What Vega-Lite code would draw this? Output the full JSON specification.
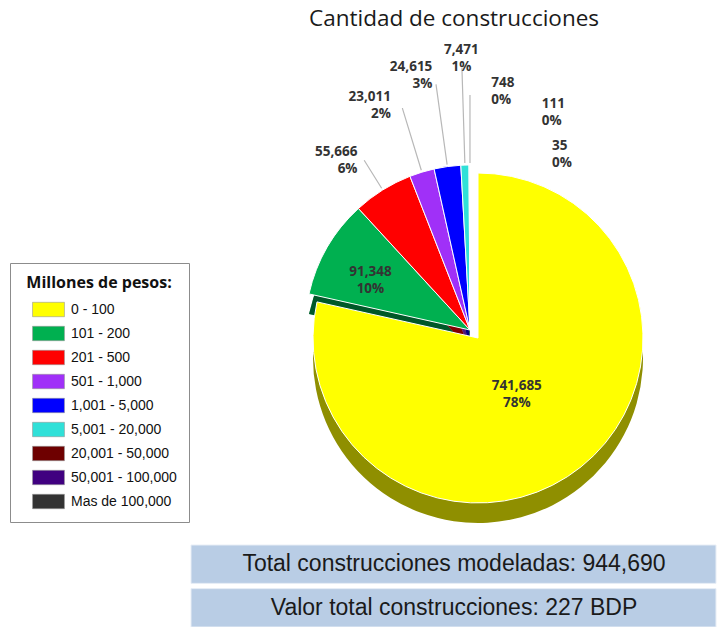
{
  "$schema": "https://vega.github.io/schema/vega-lite/v6.json",
  "width": 720,
  "height": 627,
  "autosize": {"type": "fit", "contains": "padding"},
  "padding": {"top": 7, "left": 0, "right": 0, "bottom": 0},
  "background": "white",
  "title": {"text": "Cantidad de construcciones", "anchor": "middle", "dx": 100, "offset": 4, "font": "Open Sans", "fontSize": 22.5, "fontWeight": "normal", "color": "#1a1a1a"},
  "datasets": {
    "slices": [
      {"cat": "0 - 100", "value": 741685, "idx": 1, "label": "741,685\n78%"},
      {"cat": "101 - 200", "value": 91348, "idx": 2, "label": "91,348\n10%"},
      {"cat": "201 - 500", "value": 55666, "idx": 3, "label": "55,666\n6%"},
      {"cat": "501 - 1,000", "value": 23011, "idx": 4, "label": "23,011\n2%"},
      {"cat": "1,001 - 5,000", "value": 24615, "idx": 5, "label": "24,615\n3%"},
      {"cat": "5,001 - 20,000", "value": 7471, "idx": 6, "label": "7,471\n1%"},
      {"cat": "20,001 - 50,000", "value": 748, "idx": 7, "label": "748\n0%"},
      {"cat": "50,001 - 100,000", "value": 111, "idx": 8, "label": "111\n0%"},
      {"cat": "Mas de 100,000", "value": 35, "idx": 9, "label": "35\n0%"}
    ],
    "boxes": [
      {"label": "Total construcciones modeladas: 944,690"},
      {"label": "Valor total construcciones: 227 BDP"}
    ]
  },
  "layer": [
    {
      "data": {"name": "slices"},
      "mark": {"type": "arc", "x": 470, "y": 316, "outerRadius": 165},
      "encoding": {
        "theta": {"field": "value", "type": "quantitative", "stack": true},
        "order": {"field": "idx", "type": "quantitative"},
        "color": {"field": "cat", "type": "nominal", "sort": null},
        "opacity": {"condition": {"test": "datum.cat == '0 - 100'", "value": 0}, "value": 1}
      }
    },
    {
      "data": {"name": "slices"},
      "mark": {"type": "arc", "x": 470, "y": 316, "outerRadius": 165, "color": "#000000"},
      "encoding": {
        "theta": {"field": "value", "type": "quantitative", "stack": true},
        "order": {"field": "idx", "type": "quantitative"},
        "detail": {"field": "cat", "type": "nominal"},
        "fillOpacity": {"condition": {"test": "datum.cat == '0 - 100'", "value": 0}, "value": 0.5}
      }
    },
    {
      "data": {"name": "slices"},
      "mark": {"type": "arc", "x": 478, "y": 324, "outerRadius": 165, "color": "#8f8f00"},
      "encoding": {
        "theta": {"field": "value", "type": "quantitative", "stack": true},
        "order": {"field": "idx", "type": "quantitative"},
        "detail": {"field": "cat", "type": "nominal"},
        "fillOpacity": {"condition": {"test": "datum.cat == '0 - 100'", "value": 1}, "value": 0}
      }
    },
    {
      "data": {"name": "slices"},
      "mark": {"type": "arc", "x": 470, "y": 296, "outerRadius": 165, "stroke": "white", "strokeWidth": 1},
      "encoding": {
        "theta": {"field": "value", "type": "quantitative", "stack": true},
        "order": {"field": "idx", "type": "quantitative"},
        "color": {"field": "cat", "type": "nominal", "sort": null,
          "legend": {"title": "Millones de pesos:", "orient": "none", "legendX": 10, "legendY": 229,
            "titleFont": "Open Sans", "titleFontSize": 16, "titleFontWeight": "bold", "titleColor": "#111111", "titlePadding": 6, "titleAnchor": "middle",
            "labelFont": "Liberation Sans", "labelFontSize": 14, "labelColor": "#111111", "labelOffset": 10,
            "symbolType": "M-1.33,-0.6H1.33V0.6H-1.33Z", "symbolSize": 576, "symbolStrokeWidth": 0.6, "symbolStrokeColor": "#999999", "symbolOffset": 14, "symbolOpacity": 1,
            "rowPadding": 3, "padding": 12, "strokeColor": "#8c8c8c", "fillColor": "white"},
          "scale": {"domain": ["0 - 100", "101 - 200", "201 - 500", "501 - 1,000", "1,001 - 5,000", "5,001 - 20,000", "20,001 - 50,000", "50,001 - 100,000", "Mas de 100,000"],
            "range": ["#ffff00", "#00b050", "#ff0000", "#a030f8", "#0000ff", "#30e0d8", "#6e0000", "#400080", "#333333"]}},
        "fillOpacity": {"condition": {"test": "datum.cat == '0 - 100'", "value": 0}, "value": 1},
        "strokeOpacity": {"condition": {"test": "datum.cat == '0 - 100'", "value": 0}, "value": 1}
      }
    },
    {
      "data": {"name": "slices"},
      "mark": {"type": "arc", "x": 478, "y": 304, "outerRadius": 165, "color": "#ffff00", "stroke": "white", "strokeWidth": 1},
      "encoding": {
        "theta": {"field": "value", "type": "quantitative", "stack": true},
        "order": {"field": "idx", "type": "quantitative"},
        "detail": {"field": "cat", "type": "nominal"},
        "opacity": {"condition": {"test": "datum.cat == '0 - 100'", "value": 1}, "value": 0}
      }
    },
    {
      "data": {"name": "slices"},
      "mark": {"type": "arc", "x": 470, "y": 296, "innerRadius": 167, "outerRadius": 200, "padAngle": 3, "fillOpacity": 0, "stroke": "#b8b8b8", "strokeWidth": 1.2},
      "encoding": {
        "theta": {"field": "value", "type": "quantitative", "stack": true},
        "order": {"field": "idx", "type": "quantitative"},
        "detail": {"field": "cat", "type": "nominal"},
        "strokeOpacity": {"condition": {"test": "datum.cat == '201 - 500'", "value": 1}, "value": 0}
      }
    },
    {
      "data": {"name": "slices"},
      "mark": {"type": "arc", "x": 470, "y": 296, "innerRadius": 167, "outerRadius": 232, "padAngle": 3, "fillOpacity": 0, "stroke": "#b8b8b8", "strokeWidth": 1.2},
      "encoding": {
        "theta": {"field": "value", "type": "quantitative", "stack": true},
        "order": {"field": "idx", "type": "quantitative"},
        "detail": {"field": "cat", "type": "nominal"},
        "strokeOpacity": {"condition": {"test": "datum.cat == '501 - 1,000'", "value": 1}, "value": 0}
      }
    },
    {
      "data": {"name": "slices"},
      "mark": {"type": "arc", "x": 470, "y": 296, "innerRadius": 167, "outerRadius": 248, "padAngle": 3, "fillOpacity": 0, "stroke": "#b8b8b8", "strokeWidth": 1.2},
      "encoding": {
        "theta": {"field": "value", "type": "quantitative", "stack": true},
        "order": {"field": "idx", "type": "quantitative"},
        "detail": {"field": "cat", "type": "nominal"},
        "strokeOpacity": {"condition": {"test": "datum.cat == '1,001 - 5,000'", "value": 1}, "value": 0}
      }
    },
    {
      "data": {"name": "slices"},
      "mark": {"type": "arc", "x": 470, "y": 296, "innerRadius": 167, "outerRadius": 262, "padAngle": 3, "fillOpacity": 0, "stroke": "#b8b8b8", "strokeWidth": 1.2},
      "encoding": {
        "theta": {"field": "value", "type": "quantitative", "stack": true},
        "order": {"field": "idx", "type": "quantitative"},
        "detail": {"field": "cat", "type": "nominal"},
        "strokeOpacity": {"condition": {"test": "datum.cat == '5,001 - 20,000'", "value": 1}, "value": 0}
      }
    },
    {
      "data": {"name": "slices"},
      "mark": {"type": "arc", "x": 470, "y": 296, "innerRadius": 167, "outerRadius": 235, "padAngle": 3, "fillOpacity": 0, "stroke": "#b8b8b8", "strokeWidth": 1.2},
      "encoding": {
        "theta": {"field": "value", "type": "quantitative", "stack": true},
        "order": {"field": "idx", "type": "quantitative"},
        "detail": {"field": "cat", "type": "nominal"},
        "strokeOpacity": {"condition": {"test": "datum.cat == 'Mas de 100,000'", "value": 1}, "value": 0}
      }
    },
    {
      "data": {"name": "slices"},
      "mark": {"type": "text", "x": 478, "y": 304, "radius": 62, "align": "center", "baseline": "middle", "lineBreak": "\n", "lineHeight": 17, "font": "Open Sans", "fontSize": 13.5, "fontWeight": "bold", "color": "#333333"},
      "encoding": {
        "theta": {"field": "value", "type": "quantitative", "stack": true},
        "order": {"field": "idx", "type": "quantitative"},
        "detail": {"field": "cat", "type": "nominal"},
        "text": {"condition": {"test": "datum.cat == '0 - 100'", "field": "label", "type": "nominal"}, "value": ""}
      }
    },
    {
      "data": {"name": "slices"},
      "mark": {"type": "text", "x": 470, "y": 296, "radius": 115, "align": "center", "baseline": "middle", "lineBreak": "\n", "lineHeight": 17, "font": "Open Sans", "fontSize": 13.5, "fontWeight": "bold", "color": "#333333"},
      "encoding": {
        "theta": {"field": "value", "type": "quantitative", "stack": true},
        "order": {"field": "idx", "type": "quantitative"},
        "detail": {"field": "cat", "type": "nominal"},
        "text": {"condition": {"test": "datum.cat == '101 - 200'", "field": "label", "type": "nominal"}, "value": ""}
      }
    },
    {
      "data": {"name": "slices"},
      "mark": {"type": "text", "x": 470, "y": 296, "radius": 205, "dx": -4, "dy": -4, "align": "right", "baseline": "middle", "lineBreak": "\n", "lineHeight": 17, "font": "Open Sans", "fontSize": 13.5, "fontWeight": "bold", "color": "#333333"},
      "encoding": {
        "theta": {"field": "value", "type": "quantitative", "stack": true},
        "order": {"field": "idx", "type": "quantitative"},
        "detail": {"field": "cat", "type": "nominal"},
        "text": {"condition": {"test": "datum.cat == '201 - 500'", "field": "label", "type": "nominal"}, "value": ""}
      }
    },
    {
      "data": {"name": "slices"},
      "mark": {"type": "text", "x": 470, "y": 296, "radius": 237, "dx": -10, "dy": -6, "align": "right", "baseline": "middle", "lineBreak": "\n", "lineHeight": 17, "font": "Open Sans", "fontSize": 13.5, "fontWeight": "bold", "color": "#333333"},
      "encoding": {
        "theta": {"field": "value", "type": "quantitative", "stack": true},
        "order": {"field": "idx", "type": "quantitative"},
        "detail": {"field": "cat", "type": "nominal"},
        "text": {"condition": {"test": "datum.cat == '501 - 1,000'", "field": "label", "type": "nominal"}, "value": ""}
      }
    },
    {
      "data": {"name": "slices"},
      "mark": {"type": "text", "x": 470, "y": 296, "radius": 253, "dx": -3, "dy": -12, "align": "right", "baseline": "middle", "lineBreak": "\n", "lineHeight": 17, "font": "Open Sans", "fontSize": 13.5, "fontWeight": "bold", "color": "#333333"},
      "encoding": {
        "theta": {"field": "value", "type": "quantitative", "stack": true},
        "order": {"field": "idx", "type": "quantitative"},
        "detail": {"field": "cat", "type": "nominal"},
        "text": {"condition": {"test": "datum.cat == '1,001 - 5,000'", "field": "label", "type": "nominal"}, "value": ""}
      }
    },
    {
      "data": {"name": "slices"},
      "mark": {"type": "text", "x": 470, "y": 296, "radius": 280, "align": "center", "baseline": "middle", "lineBreak": "\n", "lineHeight": 17, "font": "Open Sans", "fontSize": 13.5, "fontWeight": "bold", "color": "#333333"},
      "encoding": {
        "theta": {"field": "value", "type": "quantitative", "stack": true},
        "order": {"field": "idx", "type": "quantitative"},
        "detail": {"field": "cat", "type": "nominal"},
        "text": {"condition": {"test": "datum.cat == '5,001 - 20,000'", "field": "label", "type": "nominal"}, "value": ""}
      }
    },
    {
      "data": {"name": "slices"},
      "mark": {"type": "text", "x": 470, "y": 296, "radius": 235, "dx": 22, "dy": -12, "align": "left", "baseline": "middle", "lineBreak": "\n", "lineHeight": 17, "font": "Open Sans", "fontSize": 13.5, "fontWeight": "bold", "color": "#333333"},
      "encoding": {
        "theta": {"field": "value", "type": "quantitative", "stack": true},
        "order": {"field": "idx", "type": "quantitative"},
        "detail": {"field": "cat", "type": "nominal"},
        "text": {"condition": {"test": "datum.cat == '20,001 - 50,000'", "field": "label", "type": "nominal"}, "value": ""}
      }
    },
    {
      "data": {"name": "slices"},
      "mark": {"type": "text", "x": 470, "y": 296, "radius": 222, "dx": 72, "dy": -4, "align": "left", "baseline": "middle", "lineBreak": "\n", "lineHeight": 17, "font": "Open Sans", "fontSize": 13.5, "fontWeight": "bold", "color": "#333333"},
      "encoding": {
        "theta": {"field": "value", "type": "quantitative", "stack": true},
        "order": {"field": "idx", "type": "quantitative"},
        "detail": {"field": "cat", "type": "nominal"},
        "text": {"condition": {"test": "datum.cat == '50,001 - 100,000'", "field": "label", "type": "nominal"}, "value": ""}
      }
    },
    {
      "data": {"name": "slices"},
      "mark": {"type": "text", "x": 470, "y": 296, "radius": 172, "dx": 82, "dy": -12, "align": "left", "baseline": "middle", "lineBreak": "\n", "lineHeight": 17, "font": "Open Sans", "fontSize": 13.5, "fontWeight": "bold", "color": "#333333"},
      "encoding": {
        "theta": {"field": "value", "type": "quantitative", "stack": true},
        "order": {"field": "idx", "type": "quantitative"},
        "detail": {"field": "cat", "type": "nominal"},
        "text": {"condition": {"test": "datum.cat == 'Mas de 100,000'", "field": "label", "type": "nominal"}, "value": ""}
      }
    },
    {
      "data": {"name": "boxes"},
      "mark": {"type": "rect", "x": 191, "x2": 716, "fill": "#b9cde5", "stroke": "#e8eef6", "strokeWidth": 1},
      "encoding": {
        "y": {"field": "label", "type": "nominal", "sort": null, "axis": null, "scale": {"range": [511, 593], "paddingInner": 0.12, "paddingOuter": 0}}
      }
    },
    {
      "data": {"name": "boxes"},
      "mark": {"type": "text", "x": 454, "align": "center", "baseline": "middle", "font": "Liberation Sans", "fontSize": 23, "color": "#1a1a1a"},
      "encoding": {
        "y": {"field": "label", "type": "nominal", "sort": null, "axis": null},
        "text": {"field": "label", "type": "nominal"}
      }
    }
  ],
  "config": {
    "view": {"stroke": null}
  }
}
